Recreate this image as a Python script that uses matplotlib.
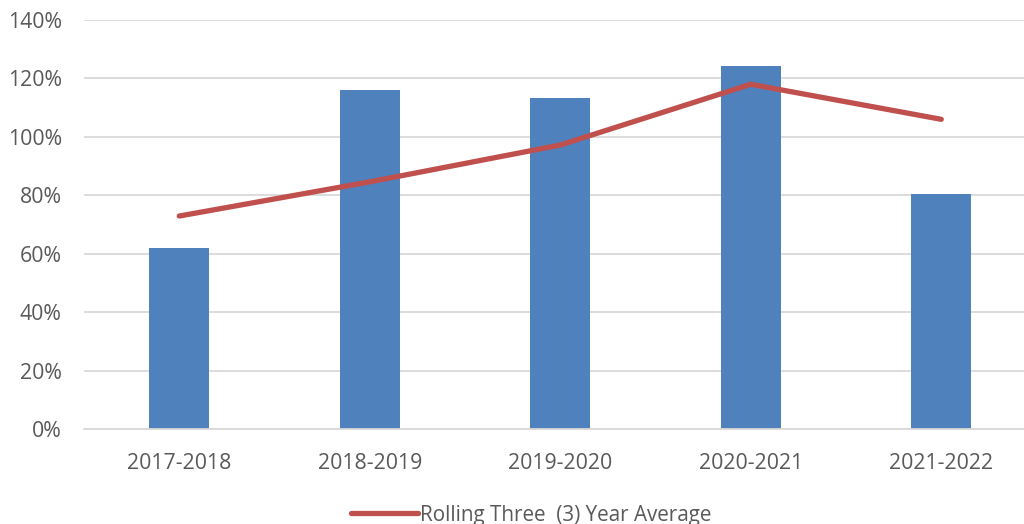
import matplotlib
matplotlib.use("Agg")
import matplotlib.pyplot as plt
from matplotlib.ticker import FuncFormatter, MultipleLocator

categories = ["2017-2018", "2018-2019", "2019-2020", "2020-2021", "2021-2022"]
bar_values = [61.8, 116.0, 113.2, 124.4, 80.3]
rolling_avg = [72.9, 84.6, 97.2, 118.0, 106.0]
legend_label = "Rolling Three  (3) Year Average"

plt.rcParams['font.family'] = ['Open Sans', 'DejaVu Sans']

fig = plt.figure(figsize=(10.24, 5.24), dpi=100)
ax = fig.add_axes([84/1024, 95/524, 952.5/1024, 409/524])

x = list(range(len(categories)))
ax.bar(x, bar_values, width=0.315, color="#4F81BD", zorder=2)
ax.plot(x, rolling_avg, color="#C0504D", linewidth=3.8, solid_capstyle="round",
        label=legend_label, zorder=3)

ax.set_xlim(-0.5, 4.5)
ax.set_ylim(0, 140)
ax.yaxis.set_major_locator(MultipleLocator(20))
ax.yaxis.set_major_formatter(FuncFormatter(lambda v, p: f"{int(round(v))}%"))
ax.set_xticks(x)
ax.set_xticklabels(categories)
ax.grid(axis="y", color="#D9D9D9", linewidth=1.3, zorder=0)
ax.set_axisbelow(True)
for s in ["top", "right", "left"]:
    ax.spines[s].set_visible(False)
ax.spines["bottom"].set_color("#D9D9D9")
ax.spines["bottom"].set_linewidth(1.3)
ax.tick_params(axis="both", length=0, labelsize=15.3, colors="#595959")
ax.tick_params(axis="x", pad=17)
ax.tick_params(axis="y", pad=16)

fig.legend(loc="center", bbox_to_anchor=(0.519, 9/524), frameon=False,
           fontsize=14.9, labelcolor="#595959", handlelength=3.2,
           handletextpad=0.12)

fig.savefig("out.png", dpi=100)
